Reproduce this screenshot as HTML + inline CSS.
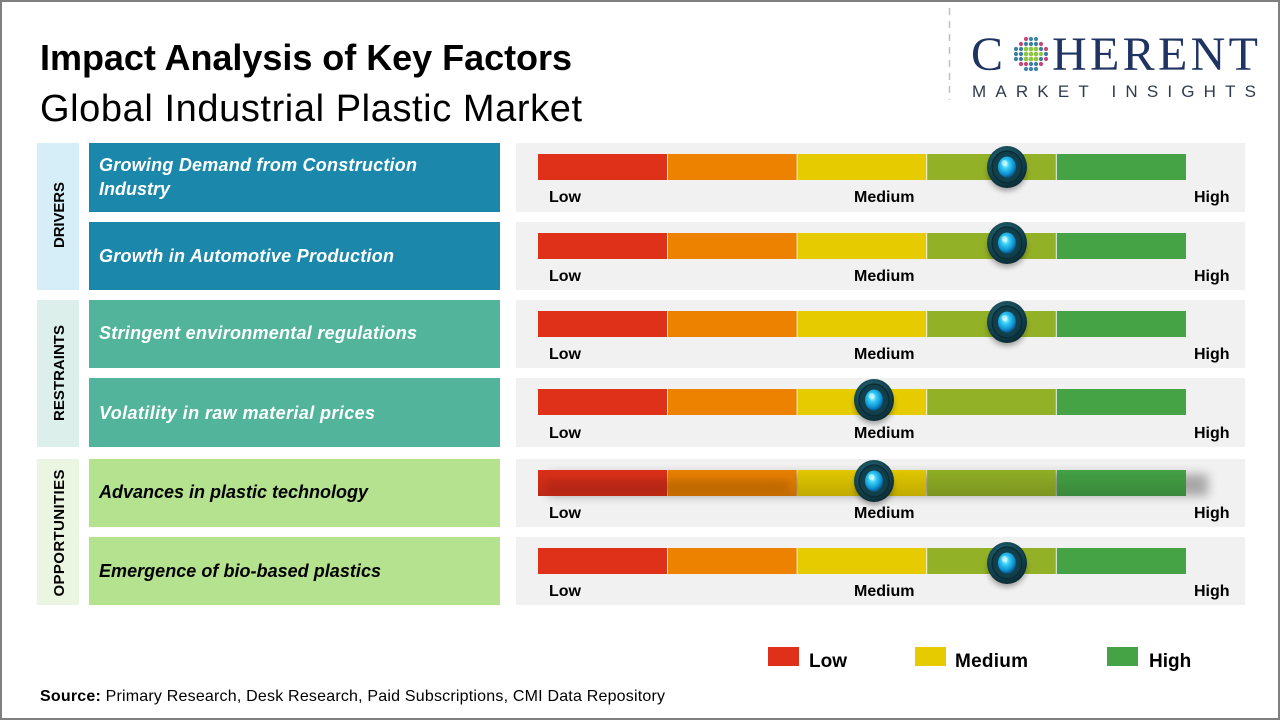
<!DOCTYPE html>
<html>
<head>
<meta charset="utf-8">
<style>
  html,body{margin:0;padding:0;background:#fff;}
  svg{display:block;}
  text{font-family:"Liberation Sans",Arial,sans-serif;}
</style>
</head>
<body>
<svg width="1280" height="720" viewBox="0 0 1280 720" xmlns="http://www.w3.org/2000/svg">
  <defs>
    <radialGradient id="body" cx="45%" cy="40%" r="60%">
      <stop offset="0" stop-color="#3f8792"/>
      <stop offset="0.55" stop-color="#1a5360"/>
      <stop offset="1" stop-color="#0a2a33"/>
    </radialGradient>
    <radialGradient id="ring" cx="50%" cy="50%" r="55%">
      <stop offset="0" stop-color="#174c58"/>
      <stop offset="1" stop-color="#0f3a45"/>
    </radialGradient>
    <radialGradient id="blue" cx="42%" cy="38%" r="60%">
      <stop offset="0" stop-color="#c8faff"/>
      <stop offset="0.35" stop-color="#35cdf5"/>
      <stop offset="0.8" stop-color="#0d8fcf"/>
      <stop offset="1" stop-color="#0a5f95"/>
    </radialGradient>
    <filter id="blur3" x="-50%" y="-50%" width="200%" height="200%">
      <feGaussianBlur stdDeviation="3"/>
    </filter>
    <filter id="blur5" x="-20%" y="-100%" width="140%" height="300%">
      <feGaussianBlur stdDeviation="5"/>
    </filter>
    <linearGradient id="shade" x1="0" y1="0" x2="0" y2="1">
      <stop offset="0" stop-color="#000" stop-opacity="0.02"/>
      <stop offset="1" stop-color="#000" stop-opacity="0.16"/>
    </linearGradient>

    <g id="bar">
      <rect x="538" y="0" width="129" height="26" fill="#df3019"/>
      <rect x="668" y="0" width="128.6" height="26" fill="#ec8200"/>
      <rect x="797.6" y="0" width="128.6" height="26" fill="#e5cb00"/>
      <rect x="927.2" y="0" width="128.6" height="26" fill="#93b126"/>
      <rect x="1056.8" y="0" width="129.2" height="26" fill="#45a346"/>
    </g>

    <g id="knob">
      <ellipse cx="0" cy="5" rx="19" ry="19" fill="#000" opacity="0.35" filter="url(#blur3)"/>
      <ellipse cx="0" cy="0" rx="20" ry="21" fill="url(#body)"/>
      <ellipse cx="0" cy="0" rx="15" ry="16" fill="url(#ring)" stroke="#082a32" stroke-width="1.2"/>
      <ellipse cx="0" cy="0" rx="9" ry="10.5" fill="url(#blue)"/>
      <ellipse cx="-2.5" cy="-4" rx="3" ry="3" fill="#e8ffff" opacity="0.55"/>
    </g>

    <g id="labels" font-weight="bold" font-size="16" fill="#000">
      <text x="549" y="0">Low</text>
      <text x="854" y="0">Medium</text>
      <text x="1194" y="0">High</text>
    </g>
  </defs>

  <!-- background & border -->
  <rect x="0" y="0" width="1280" height="720" fill="#ffffff"/>
  <rect x="1" y="1" width="1278" height="718" fill="none" stroke="#808080" stroke-width="2"/>

  <!-- Titles -->
  <text x="40" y="70" font-size="36" font-weight="bold" fill="#000" textLength="532">Impact Analysis of Key Factors</text>
  <text x="40" y="121" font-size="38" fill="#000" textLength="542">Global Industrial Plastic Market</text>

  <!-- Logo -->
  <line x1="949.5" y1="8" x2="949.5" y2="100" stroke="#c0c0c0" stroke-width="1.5" stroke-dasharray="7,6"/>
  <text x="971" y="70" font-size="48" fill="#1f3462" style="font-family:'Liberation Serif',serif">C</text>
  <text x="1052" y="70" font-size="48" fill="#1f3462" textLength="206" style="font-family:'Liberation Serif',serif">HERENT</text>
  <g transform="translate(1031,54)">
    <g fill="#3b7fa3">
      <circle cx="-5" cy="-15" r="2.1" fill="#c4487a"/>
      <circle cx="0" cy="-15" r="2.1" fill="#3f86a8"/>
      <circle cx="5" cy="-15" r="2.1" fill="#3f86a8"/>
      <circle cx="-10" cy="-10" r="2.1" fill="#c4487a"/>
      <circle cx="-5" cy="-10" r="2.1"/>
      <circle cx="0" cy="-10" r="2.1"/>
      <circle cx="5" cy="-10" r="2.1"/>
      <circle cx="10" cy="-10" r="2.1" fill="#c4487a"/>
      <circle cx="-15" cy="-5" r="2.1"/>
      <circle cx="-10" cy="-5" r="2.1"/>
      <circle cx="-5" cy="-5" r="2.3" fill="#8dc63f"/>
      <circle cx="0" cy="-5" r="2.3" fill="#8dc63f"/>
      <circle cx="5" cy="-5" r="2.3" fill="#8dc63f"/>
      <circle cx="10" cy="-5" r="2.1"/>
      <circle cx="15" cy="-5" r="2.1" fill="#c4487a"/>
      <circle cx="-15" cy="0" r="2.1"/>
      <circle cx="-10" cy="0" r="2.1"/>
      <circle cx="-5" cy="0" r="2.3" fill="#8dc63f"/>
      <circle cx="0" cy="0" r="2.3" fill="#8dc63f"/>
      <circle cx="5" cy="0" r="2.3" fill="#8dc63f"/>
      <circle cx="10" cy="0" r="2.1" fill="#8dc63f"/>
      <circle cx="15" cy="0" r="2.1"/>
      <circle cx="-15" cy="5" r="2.1"/>
      <circle cx="-10" cy="5" r="2.1"/>
      <circle cx="-5" cy="5" r="2.3" fill="#8dc63f"/>
      <circle cx="0" cy="5" r="2.3" fill="#8dc63f"/>
      <circle cx="5" cy="5" r="2.3" fill="#8dc63f"/>
      <circle cx="10" cy="5" r="2.1"/>
      <circle cx="15" cy="5" r="2.1" fill="#c4487a"/>
      <circle cx="-10" cy="10" r="2.1" fill="#c4487a"/>
      <circle cx="-5" cy="10" r="2.1" fill="#c4487a"/>
      <circle cx="0" cy="10" r="2.1"/>
      <circle cx="5" cy="10" r="2.1"/>
      <circle cx="10" cy="10" r="2.1" fill="#c4487a"/>
      <circle cx="-5" cy="15" r="2.1" fill="#3f86a8"/>
      <circle cx="0" cy="15" r="2.1" fill="#3f86a8"/>
      <circle cx="5" cy="15" r="2.1" fill="#3f86a8"/>
    </g>
  </g>
  <text x="972" y="97" font-size="17" fill="#2f3a4f" textLength="284">MARKET INSIGHTS</text>

  <!-- Category side boxes -->
  <rect x="37" y="143" width="42" height="147" fill="#d6eef8"/>
  <rect x="37" y="300" width="42" height="147" fill="#dcefea"/>
  <rect x="37" y="459" width="42" height="146" fill="#eaf6e2"/>
  <g font-weight="bold" font-size="15" fill="#000" text-anchor="middle">
    <text transform="translate(64,215) rotate(-90)" textLength="66">DRIVERS</text>
    <text transform="translate(64,373) rotate(-90)" textLength="96">RESTRAINTS</text>
    <text transform="translate(64,533) rotate(-90)" textLength="127">OPPORTUNITIES</text>
  </g>

  <!-- Factor boxes -->
  <rect x="89" y="143" width="411" height="69" fill="#1b88ab"/>
  <rect x="89" y="222" width="411" height="68" fill="#1b88ab"/>
  <rect x="89" y="300" width="411" height="68" fill="#52b49b"/>
  <rect x="89" y="378" width="411" height="69" fill="#52b49b"/>
  <rect x="89" y="459" width="411" height="68" fill="#b5e28f"/>
  <rect x="89" y="537" width="411" height="68" fill="#b5e28f"/>

  <g font-weight="bold" font-style="italic" font-size="18">
    <text x="99" y="171" fill="#ffffff" textLength="318">Growing Demand from Construction</text>
    <text x="99" y="195" fill="#ffffff" textLength="71">Industry</text>
    <text x="99" y="262" fill="#ffffff" textLength="295">Growth in Automotive Production</text>
    <text x="99" y="339" fill="#ffffff" textLength="318">Stringent environmental regulations</text>
    <text x="99" y="419" fill="#ffffff" textLength="276">Volatility in raw material prices</text>
    <text x="99" y="498" fill="#000000" textLength="269">Advances in plastic technology</text>
    <text x="99" y="577" fill="#000000" textLength="282">Emergence of bio-based plastics</text>
  </g>

  <!-- Gauge panels -->
  <rect x="516" y="143" width="729" height="69" fill="#f1f1f1"/>
  <rect x="516" y="222" width="729" height="68" fill="#f1f1f1"/>
  <rect x="516" y="300" width="729" height="68" fill="#f1f1f1"/>
  <rect x="516" y="378" width="729" height="69" fill="#f1f1f1"/>
  <rect x="516" y="459" width="729" height="68" fill="#f1f1f1"/>
  <rect x="516" y="537" width="729" height="68" fill="#f1f1f1"/>

  <!-- Bars -->
  <use href="#bar" transform="translate(0,154)"/>
  <use href="#bar" transform="translate(0,233)"/>
  <use href="#bar" transform="translate(0,311)"/>
  <use href="#bar" transform="translate(0,389)"/>
  <rect x="548" y="474" width="660" height="22" fill="#000" opacity="0.3" filter="url(#blur5)"/>
  <use href="#bar" transform="translate(0,470)"/>
  <rect x="538" y="470" width="648" height="26" fill="url(#shade)"/>
  <rect x="548" y="480" width="240" height="12" fill="#000" opacity="0.08" filter="url(#blur3)"/>
  <use href="#bar" transform="translate(0,548)"/>

  <!-- Labels -->
  <use href="#labels" transform="translate(0,202)"/>
  <use href="#labels" transform="translate(0,281)"/>
  <use href="#labels" transform="translate(0,359)"/>
  <use href="#labels" transform="translate(0,438)"/>
  <use href="#labels" transform="translate(0,518)"/>
  <use href="#labels" transform="translate(0,596)"/>

  <!-- Knobs -->
  <use href="#knob" transform="translate(1007,167)"/>
  <use href="#knob" transform="translate(1007,243)"/>
  <use href="#knob" transform="translate(1007,322)"/>
  <use href="#knob" transform="translate(874,400)"/>
  <use href="#knob" transform="translate(874,481)"/>
  <use href="#knob" transform="translate(1007,563)"/>

  <!-- Legend -->
  <rect x="768" y="647" width="31" height="19" fill="#df3019"/>
  <text x="809" y="667" font-size="19" font-weight="bold" fill="#000">Low</text>
  <rect x="915" y="647" width="31" height="19" fill="#e5cb00"/>
  <text x="955" y="667" font-size="19" font-weight="bold" fill="#000" textLength="73">Medium</text>
  <rect x="1107" y="647" width="31" height="19" fill="#45a346"/>
  <text x="1149" y="667" font-size="19" font-weight="bold" fill="#000">High</text>

  <!-- Source -->
  <text x="40" y="701" font-size="16" fill="#000" textLength="625"><tspan font-weight="bold">Source:</tspan> Primary Research, Desk Research, Paid Subscriptions, CMI Data Repository</text>
</svg>
</body>
</html>
